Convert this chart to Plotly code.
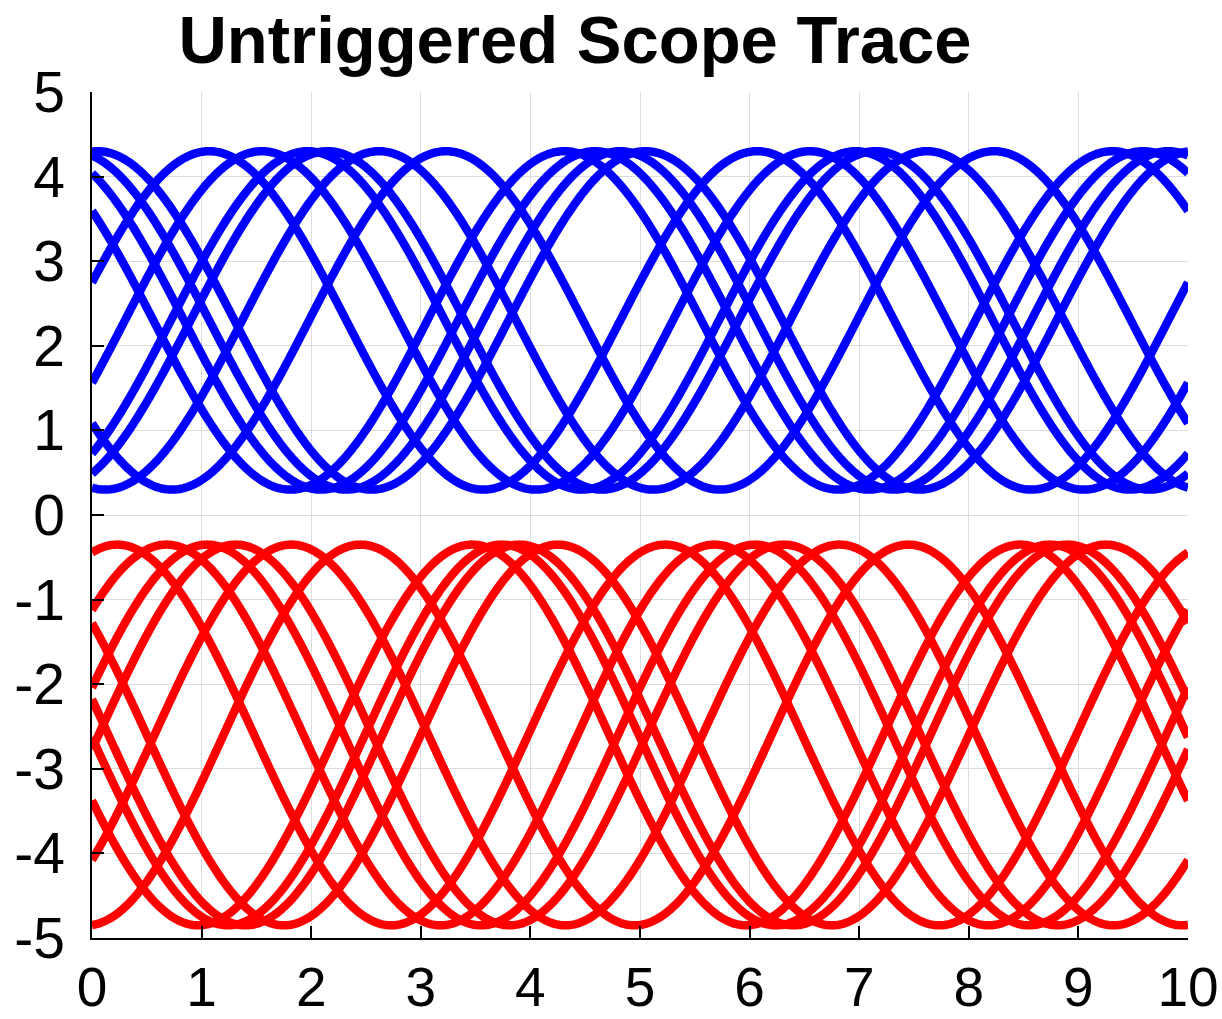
import numpy as np
import plotly.graph_objects as go

# Values
title_text = "Untriggered Scope Trace"
period = 5.0                      # traces repeat every 5 units (x=0 and x=10 match)
blue_offset, blue_amp = 2.3, 2.0  # blue swings 0.3 .. 4.3
red_offset, red_amp = -2.6, 2.25  # red swings -4.85 .. -0.35
# x position of each trace's crest within the first period
blue_peaks = [0.05, 1.07, 1.55, 1.97, 2.15, 2.62, 3.23, 4.31, 4.59, 4.82]
red_peaks = [0.23, 0.68, 1.05, 1.31, 1.82, 2.45, 3.47, 3.74, 3.90, 4.25]
x_ticks = [0, 1, 2, 3, 4, 5, 6, 7, 8, 9, 10]
y_ticks = [-5, -4, -3, -2, -1, 0, 1, 2, 3, 4, 5]

t = np.linspace(0, 10, 801)
w = 2 * np.pi / period

fig = go.Figure()
for p in blue_peaks:
    fig.add_trace(go.Scatter(x=t, y=blue_offset + blue_amp * np.cos(w * (t - p)),
                             mode="lines", line=dict(color="#0000ff", width=8.5, simplify=False),
                             showlegend=False, hoverinfo="skip"))
for p in red_peaks:
    fig.add_trace(go.Scatter(x=t, y=red_offset + red_amp * np.cos(w * (t - p)),
                             mode="lines", line=dict(color="#ff0000", width=8.5, simplify=False),
                             showlegend=False, hoverinfo="skip"))

font = "Liberation Sans, Arial, Helvetica, sans-serif"
fig.update_layout(
    width=1222, height=1019,
    margin=dict(l=92, r=34, t=92, b=81, autoexpand=False),
    paper_bgcolor="white", plot_bgcolor="white",
    title=dict(text="<b>" + title_text + "</b>", x=575 / 1222, xanchor="center",
               xref="container", y=1 - 40 / 1019, yanchor="middle", yref="container",
               font=dict(family=font, size=67, color="black")),
    font=dict(family=font, size=57, color="black"),
)
fig.update_xaxes(range=[0, 10], tickvals=x_ticks, ticktext=[str(v) for v in x_ticks],
                 tickfont=dict(size=55),
                 showgrid=True, gridcolor="#dcdcdc", gridwidth=1, automargin=False,
                 showline=True, linecolor="black", linewidth=1.5,
                 ticks="inside", ticklen=12, tickcolor="black", tickwidth=1.5,
                 zeroline=False, mirror=False, ticklabelstandoff=0)
fig.update_yaxes(range=[-5, 5], tickvals=y_ticks, ticktext=[str(v) for v in y_ticks],
                 showgrid=True, gridcolor="#dcdcdc", gridwidth=1, automargin=False,
                 showline=True, linecolor="black", linewidth=1.5,
                 ticks="inside", ticklen=12, tickcolor="black", tickwidth=1.5,
                 zeroline=False, mirror=False, ticklabelstandoff=14)
fig.write_html("out.html", config={"displayModeBar": False},
               post_script="document.body.style.margin='0';document.body.style.overflow='hidden';")
